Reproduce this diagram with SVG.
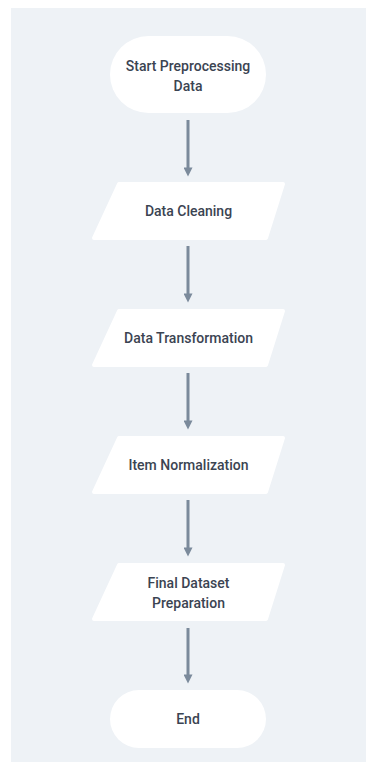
<svg xmlns="http://www.w3.org/2000/svg" width="366" height="762" viewBox="0 0 366 762">
  <style>
    .panel { fill: #eef2f6; }
    .node { fill: #ffffff; stroke: #ffffff; stroke-width: 4; stroke-linejoin: round; }
    .label { font-family: Roboto, "Liberation Sans", sans-serif; font-size: 14px; font-weight: 500; fill: #3b4452; text-anchor: middle; }
    .edge { stroke: #7b8a9b; stroke-width: 3; fill: none; }
  </style>
  <defs>
    <marker id="arrow" viewBox="0 0 10 10" refX="5" refY="5" markerWidth="10" markerHeight="9" markerUnits="userSpaceOnUse" orient="auto">
      <path d="M0,0 L10,5 L0,10 Z" fill="#7b8a9b"/>
    </marker>
  </defs>

  <rect class="panel" x="11" y="8" width="355" height="754"/>

  <g id="connectors">
    <line class="edge" x1="188" y1="120" x2="188" y2="172" marker-end="url(#arrow)"/>
    <line class="edge" x1="188" y1="246" x2="188" y2="298" marker-end="url(#arrow)"/>
    <line class="edge" x1="188" y1="373" x2="188" y2="425" marker-end="url(#arrow)"/>
    <line class="edge" x1="188" y1="500" x2="188" y2="552" marker-end="url(#arrow)"/>
    <line class="edge" x1="188" y1="628" x2="188" y2="679" marker-end="url(#arrow)"/>
  </g>

  <g id="start">
    <rect x="110" y="36" width="156" height="77" rx="38.5" fill="#ffffff"/>
    <text class="label" x="188" y="71">Start Preprocessing</text>
    <text class="label" x="188" y="91">Data</text>
  </g>

  <g id="cleaning">
    <polygon class="node" points="119,184 283,184 266,238 94,238"/>
    <text class="label" x="188.5" y="216">Data Cleaning</text>
  </g>

  <g id="transformation">
    <polygon class="node" points="119,311 283,311 266,365 94,365"/>
    <text class="label" x="188.5" y="343">Data Transformation</text>
  </g>

  <g id="normalization">
    <polygon class="node" points="119,438 283,438 266,492 94,492"/>
    <text class="label" x="188.5" y="470">Item Normalization</text>
  </g>

  <g id="preparation">
    <polygon class="node" points="119,565 283,565 266,619 94,619"/>
    <text class="label" x="188.5" y="588">Final Dataset</text>
    <text class="label" x="188.5" y="608">Preparation</text>
  </g>

  <g id="end">
    <rect x="110" y="690" width="156" height="58" rx="29" fill="#ffffff"/>
    <text class="label" x="188" y="724">End</text>
  </g>
</svg>
